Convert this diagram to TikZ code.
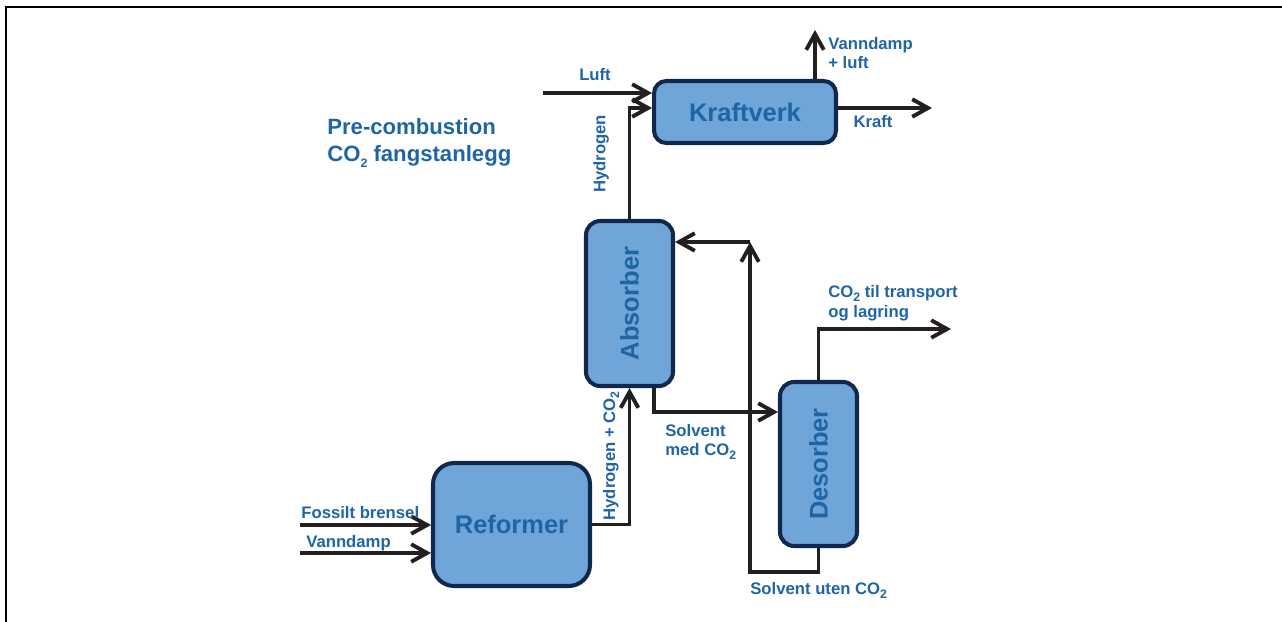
\documentclass[tikz,border=0pt]{standalone}
\usepackage{fontspec}
\setmainfont{Liberation Sans}
\usetikzlibrary{arrows.meta}
\definecolor{boxfill}{RGB}{111,165,216}
\definecolor{boxline}{RGB}{16,40,76}
\definecolor{labelblue}{RGB}{31,101,166}
\definecolor{pipecol}{RGB}{35,31,32}
\newcommand{\cotwo}{CO\raisebox{-0.45ex}{\scriptsize 2}}
\begin{document}
\begin{tikzpicture}[x=0.02cm, y=-0.02cm,
    unit/.style={draw=boxline, fill=boxfill, line width=2.3pt, text=labelblue,
        font=\fontsize{14.5}{17}\selectfont\bfseries},
    flow/.style={draw=pipecol, line width=2.2pt, -{Straight Barb[length=9pt,width=10pt]}},
    lbl/.style={text=labelblue, font=\fontsize{9.5}{11.3}\selectfont\bfseries,
        inner sep=0pt, align=left}]
    \useasboundingbox (0,0) rectangle (1282,622);

    % frame
    \draw[line width=1.2pt] (6,622) -- (6,7) -- (1282,7);

    % title
    \node[lbl, anchor=west, font=\fontsize{12.6}{15.3}\selectfont\bfseries] (title) at (327,143)
        {Pre-combustion\\\cotwo{} fangstanlegg};

    % units
    \node[unit, rounded corners=7pt, minimum width=3.64cm, minimum height=1.24cm] (kraftverk) at (745,112) {Kraftverk};
    \node[unit, rounded corners=8pt, minimum width=1.74cm, minimum height=3.3cm] (absorber) at (629.5,303.5) {\rotatebox{90}{Absorber}};
    \node[unit, rounded corners=8pt, minimum width=1.54cm, minimum height=3.28cm] (desorber) at (818.5,464) {\rotatebox{90}{Desorber}};
    \node[unit, rounded corners=12pt, minimum width=3.14cm, minimum height=2.46cm] (reformer) at (511.5,524.5) {Reformer};

    % free ends
    \coordinate (luft in) at (543,93);
    \coordinate (damp out) at (815,30);
    \coordinate (kraft out) at (932,108);
    \coordinate (fossil in) at (300,525);
    \coordinate (damp in) at (300,553);
    \coordinate (rich) at (654,412);
    \coordinate (lean low) at (750,572);
    \coordinate (lean top) at (750,242);
    \coordinate (co2 out) at (951,329);

    % streams
    \draw[flow] (luft in) -- (luft in -| kraftverk.west);
    \draw[flow] (absorber.north) |- ([yshift=0.08cm]kraftverk.west);
    \draw[flow] (kraftverk.north -| damp out) -- (damp out);
    \draw[flow] (kraftverk.east |- kraft out) -- (kraft out);
    \draw[flow] (fossil in) -- (fossil in -| reformer.west);
    \draw[flow] (damp in) -- (damp in -| reformer.west);
    \draw[flow] (reformer.east) -| (absorber.south);
    \draw[flow] (absorber.south -| rich) -- (rich) -- (rich -| desorber.west);
    \draw[flow] (desorber.south) |- (lean low) -- (lean top);
    \draw[flow] (lean top) -- (lean top -| absorber.east);
    \draw[flow] (desorber.north) |- (co2 out);

    % labels
    \node[lbl] (luft lbl) at (595,75) {Luft};
    \node[lbl, rotate=90] (h2 lbl) at (601,154) {Hydrogen};
    \node[lbl, anchor=west] (damp lbl) at (828,53) {Vanndamp\\+ luft};
    \node[lbl] (kraft lbl) at (873,122) {Kraft};
    \node[lbl, anchor=west] (co2 lbl) at (828,303) {\cotwo{} til transport\\og lagring};
    \node[lbl, anchor=west] (rich lbl) at (665,442) {Solvent\\med \cotwo};
    \node[lbl, anchor=west] (lean lbl) at (750,590) {Solvent uten \cotwo};
    \node[lbl, anchor=west] (fossil lbl) at (301,513) {Fossilt brensel};
    \node[lbl, anchor=west] (vann lbl) at (306,543) {Vanndamp};
    \node[lbl, rotate=90] (syngas lbl) at (611,456) {Hydrogen + \cotwo};
\end{tikzpicture}
\end{document}
